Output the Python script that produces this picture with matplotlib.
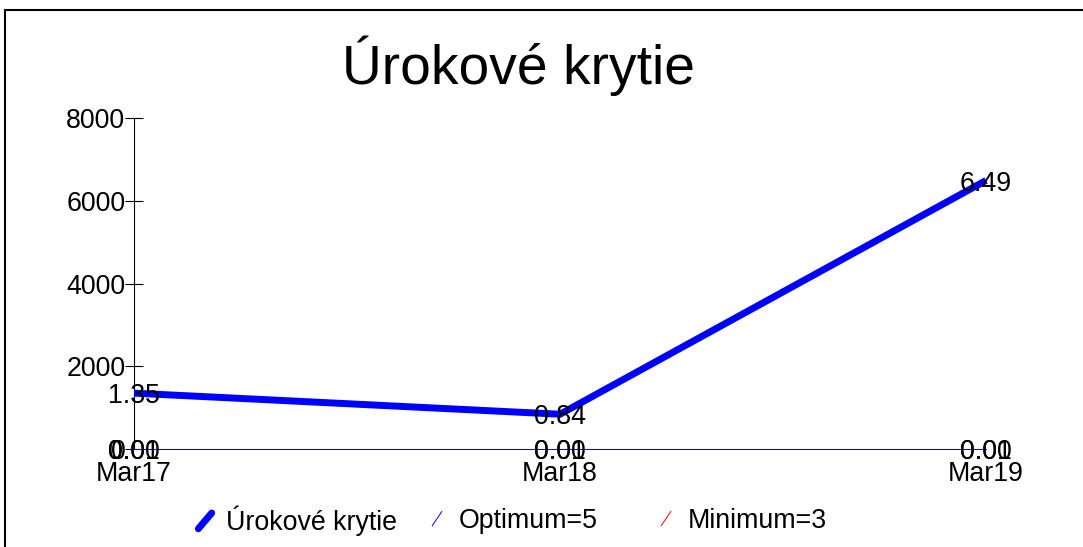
import matplotlib
matplotlib.use("Agg")
import matplotlib.pyplot as plt
from matplotlib.lines import Line2D
from matplotlib.legend_handler import HandlerBase
from matplotlib.patches import Rectangle

plt.rcParams['font.family'] = ['Liberation Sans', 'DejaVu Sans']

categories = ["Mar17", "Mar18", "Mar19"]
coverage = [1350, 840, 6490]
coverage_labels = ["1.35", "0.84", "6.49"]
optimum = [5, 5, 5]
optimum_labels = ["0.01", "0.01", "0.01"]
minimum = [3, 3, 3]
minimum_labels = ["0.00", "0.00", "0.00"]
yticks = [0, 2000, 4000, 6000, 8000]
title = "Úrokové krytie"
series_names = ["Úrokové krytie", "Optimum=5", "Minimum=3"]

W, H = 1083, 547
fig = plt.figure(figsize=(W / 100, H / 100), dpi=100)
ax = fig.add_axes([134 / W, 1 - 449 / H, (986 - 134) / W, (449 - 118) / H])

FS = 19.3
x = list(range(len(categories)))
ax.plot(x, minimum, color='#ff0000', lw=0.7, clip_on=False, zorder=3)
ax.plot(x, optimum, color='#0000ff', lw=0.7, clip_on=False, zorder=3)
ax.plot(x, coverage, color='#0000ff', lw=5, clip_on=False, zorder=4,
        solid_capstyle='butt', solid_joinstyle='miter')


def label(xi, v, s):
    ax.annotate(s, (xi, v), xytext=(0, -2.2), textcoords='offset points',
                ha='center', va='center', fontsize=FS, zorder=5,
                annotation_clip=False)


for xi, v, s in zip(x, minimum, minimum_labels):
    label(xi, v, s)
for xi, v, s in zip(x, optimum, optimum_labels):
    label(xi, v, s)
for xi, v, s in zip(x, coverage, coverage_labels):
    label(xi, v, s)

ax.set_xlim(0, len(categories) - 1)
ax.set_ylim(0, 8000)
ax.set_yticks(yticks)
ax.set_yticklabels([str(t) for t in yticks], fontsize=FS)
ax.set_xticks(x)
ax.set_xticklabels(categories, fontsize=FS)
ax.tick_params(axis='y', direction='inout', length=12.5, width=0.8, pad=0)
ax.tick_params(axis='x', length=0, pad=8.5)
for s in ['top', 'right', 'bottom']:
    ax.spines[s].set_visible(False)
ax.spines['left'].set_linewidth(0.8)
ax.patch.set_alpha(0)

fig.text(518 / W, 1 - 84 / H, title, ha='center', va='baseline', fontsize=39.7)

# figure border
fig.patches.append(Rectangle((5 / W, -0.1), 1.2, 1 - 10 / H + 0.1,
                             transform=fig.transFigure, fill=False,
                             edgecolor='black', lw=1.5))


class DiagHandler(HandlerBase):
    def __init__(self, fw, fh, cap='butt'):
        super().__init__()
        self.fw, self.fh, self.cap = fw, fh, cap

    def create_artists(self, legend, orig_handle, xdescent, ydescent, width,
                       height, fontsize, trans):
        cx = -xdescent + width * 0.4
        cy = -ydescent + height / 2
        hw = width * self.fw
        hh = height * self.fh
        l = Line2D([cx - hw, cx + hw], [cy - hh, cy + hh],
                   color=orig_handle.get_color(), lw=orig_handle.get_linewidth(),
                   solid_capstyle=self.cap)
        l.set_transform(trans)
        return [l]


handles = [Line2D([], [], color='#0000ff', lw=5),
           Line2D([], [], color='#0000ff', lw=0.7),
           Line2D([], [], color='#ff0000', lw=0.7)]
handlers = [DiagHandler(0.25, 0.42, 'round'), DiagHandler(0.19, 0.4), DiagHandler(0.19, 0.4)]
text_starts = [226, 458, 687]
ly = 1 - 521 / H
for h, hd, name, ts in zip(handles, handlers, series_names, text_starts):
    lg = fig.legend(handles=[h], labels=[name], loc='center left',
                    bbox_to_anchor=((ts - 31.7) / W, ly), frameon=False,
                    fontsize=FS, handlelength=1.0, handletextpad=0.2,
                    borderpad=0, borderaxespad=0,
                    handler_map={h: hd})

fig.savefig("out.png", dpi=100)
